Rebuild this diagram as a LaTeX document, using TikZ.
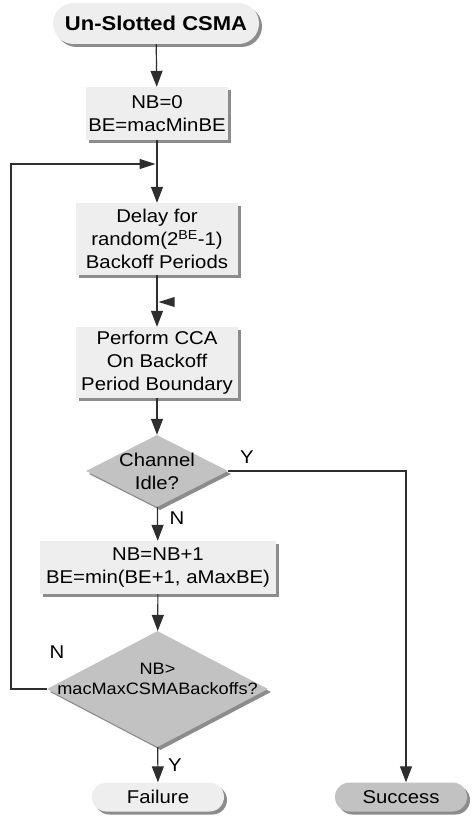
\documentclass[tikz,border=0pt]{standalone}
\usepackage{fontspec}
\setmainfont{Liberation Sans}[FakeStretch=1.1]
\usetikzlibrary{shapes.geometric,shadows,arrows.meta}
\definecolor{boxgray}{HTML}{EEEEEE}
\definecolor{diagray}{HTML}{C2C2C2}
\definecolor{shadgray}{HTML}{8C8C8C}
\definecolor{linegray}{HTML}{2E2E2E}
\tikzset{
  shad/.style={drop shadow={shadow xshift=3pt,shadow yshift=-3pt,fill=shadgray,opacity=1}},
  procbox/.style={rectangle,fill=boxgray,shad,inner sep=0pt,align=center,font=\fontsize{18.5}{23}\selectfont},
  decbox/.style={diamond,fill=diagray,shad,inner sep=0pt},
  termbox/.style={rectangle,rounded corners=14.5pt,minimum width=132pt,minimum height=29pt,inner sep=0pt,shad,font=\fontsize{18.5}{22}\selectfont},
  flow/.style={-{Triangle[length=16pt,width=12pt]},linegray,line width=1.2pt},
  yn/.style={font=\fontsize{18.5}{22}\selectfont,inner sep=0pt}
}
\begin{document}
\begin{tikzpicture}[x=1pt,y=-1pt]
\useasboundingbox (0,0) rectangle (472,821);
\node[termbox,fill=boxgray,minimum width=206pt,minimum height=41pt,rounded corners=20.5pt,font=\bfseries\fontsize{20}{24}\selectfont] (start) at (156,23.5) {Un-Slotted CSMA};
\node[procbox,minimum width=142pt,minimum height=53pt] (init) at (157,113.5) {NB=0\\BE=macMinBE};
\node[procbox,minimum width=162pt,minimum height=72pt] (delay) at (157,239) {Delay for\\random(2\textsuperscript{BE}-1)\\Backoff Periods};
\node[procbox,minimum width=162pt,minimum height=71pt] (cca) at (157,362.5) {Perform CCA\\On Backoff\\Period Boundary};
\node[decbox,minimum width=142pt,minimum height=72pt,label={[align=center,font=\fontsize{18.5}{23}\selectfont]center:Channel\\Idle?}] (idle) at (157,471) {};
\node[procbox,minimum width=236pt,minimum height=53pt] (nbinc) at (158,567.5) {NB=NB+1\\BE=min(BE+1, aMaxBE)};
\node[decbox,minimum width=221pt,minimum height=116pt,label={[align=center,yshift=10pt,font=\fontsize{16.5}{20}\selectfont]center:NB>\\macMaxCSMABackoffs?}] (maxbo) at (157.5,689) {};
\node[termbox,fill=boxgray] (fail) at (158,797) {Failure};
\node[termbox,fill=diagray] (succ) at (401,797) {Success};

\coordinate (merge) at (157,164);
\coordinate (loopc) at (11,164);
\coordinate (ycorn) at (406,471);
\coordinate (stray) at (158.5,302);

\draw[flow] (start) -- (init);
\draw[flow] (init) -- (delay);
\draw[flow] (delay) -- (cca);
\fill[linegray] (stray) -- ++(16,-5) -- ++(0,10) -- cycle;
\draw[flow] (cca) -- (idle);
\draw[flow] (idle) -- (nbinc);
\draw[flow] (nbinc) -- (maxbo);
\draw[flow] (maxbo) -- (fail);
\draw[flow,shorten >=1.5pt,-{Triangle[length=16pt,width=10pt]}] (maxbo.west) -| (loopc) -- (merge);
\draw[flow] (idle.east) -- (ycorn) -- (ycorn |- succ.north);

\node[yn] (idley) at (247,457) {Y};
\node[yn] (idlen) at (177,518) {N};
\node[yn] (maxn) at (57,652) {N};
\node[yn] (maxy) at (175,765) {Y};
\end{tikzpicture}
\end{document}
